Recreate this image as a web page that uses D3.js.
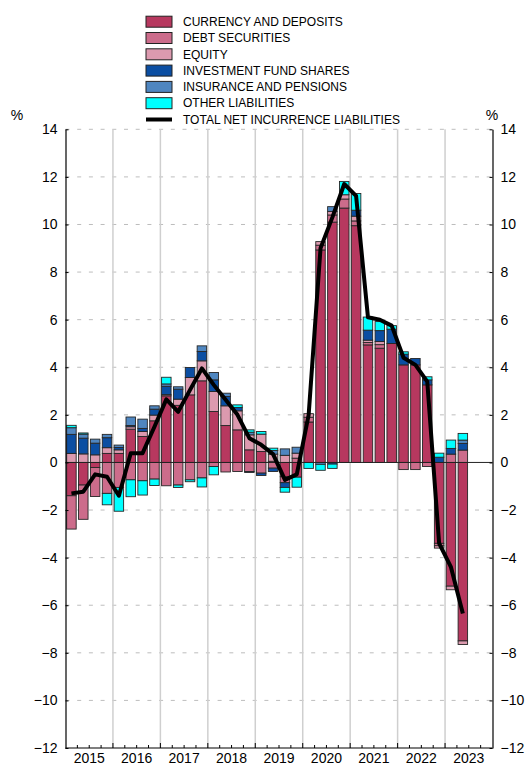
<!DOCTYPE html>
<html>
<head>
<meta charset="utf-8">
<script src="https://cdn.jsdelivr.net/npm/d3@7"></script>
<style>
  body { margin: 0; background: #fff; }
  svg { display: block; font-family: "Liberation Sans", Arial, Helvetica, sans-serif; }
</style>
</head>
<body>
<div id="chart"></div>
<script>
// tick labels / categories
const years = ["2015", "2016", "2017", "2018", "2019", "2020", "2021", "2022", "2023"];
const quarters = ["Q1", "Q2", "Q3", "Q4"];
const yTicks = [-12, -10, -8, -6, -4, -2, 0, 2, 4, 6, 8, 10, 12, 14];

const seriesNames = [
  "CURRENCY AND DEPOSITS",
  "DEBT SECURITIES",
  "EQUITY",
  "INVESTMENT FUND SHARES",
  "INSURANCE AND PENSIONS",
  "OTHER LIABILITIES"
];
const seriesColors = ["#b7385f", "#cc6c8b", "#dc9aaf", "#0b4ea2", "#4f86c0", "#00ffff"];
const lineName = "TOTAL NET INCURRENCE LIABILITIES";

// quarterly values, 2015 Q1 .. 2023 Q2 (% )
const currency = [
  -1.4, -0.95, -0.21, 0.38,
  0.38, 1.4, 1.09, 1.75,
  2.8, 2.4, 2.84, 3.43,
  2.14, 1.55, 1.37, 0.53,
  0.46, 0.05, -0.6, -0.62,
  1.7, 8.93, 10.1, 10.69,
  9.95, 4.94, 4.8, 5.0,
  4.1, 4.1, 3.26, -3.4,
  -5.2, -7.5
];
const debt = [
  -1.4, -1.44, -1.22, -1.3,
  -1.05, -0.73, -0.77, -0.7,
  -0.98, -0.95, -0.73, -0.65,
  -0.17, -0.4, -0.38, -0.38,
  -0.45, -0.24, -0.25, 0.18,
  0.2, 0.2, 0.3, 0.38,
  0.2, 0.1, 0.15, 0,
  -0.3, -0.3, -0.17, -0.1,
  0.35, 0.52
];
const equity = [
  0.38, 0.36, 0.32, 0.24,
  0.15, 0.1, 0.21, 0.24,
  0.05, 0.26, 0.73, 0.84,
  0.84, 0.83, 0.8, 0.63,
  0.73, 0.3, 0.3, 0.21,
  0.15, 0.15, 0.15, 0.18,
  0.2, 0.1, 0.13, 0,
  0, 0, 0, -0.1,
  -0.15, -0.15
];
const fundShares = [
  0.8, 0.66, 0.49, 0.42,
  0.1, 0.05, 0.13, 0.25,
  0.35, 0.42, 0.42, 0.39,
  0.49, 0.39, 0.14, -0.04,
  -0.1, -0.14, -0.2, 0,
  0, 0, -0.07, 0,
  0.25, 0.42, 0.46, 0.6,
  0.45, 0.27, 0.21, 0.22,
  0.24, 0.28
];
const insurance = [
  0.28, 0.17, 0.17, 0.14,
  0.1, 0.36, 0.39, 0.14,
  0.1, 0.1, 0, 0.24,
  0.31, 0.14, 0, 0.11,
  0, 0.15, 0.27, 0.25,
  0, -0.08, 0.2, 0,
  0, 0, 0, 0,
  0, 0, 0, 0,
  0, 0.14
];
const other = [
  0.1, 0.05, 0, -0.48,
  -1.0, -0.71, -0.6, -0.27,
  0.28, -0.1, -0.08, -0.38,
  -0.35, 0, 0.11, 0.1,
  0.11, 0.1, -0.2, -0.42,
  -0.25, -0.25, -0.18, 0.56,
  0.7, 0.55, 0.38, 0.15,
  0.1, 0, 0.13, 0.17,
  0.35, 0.28
];
const total = [
  -1.3, -1.23, -0.5, -0.6,
  -1.4, 0.39, 0.39, 1.5,
  2.65, 2.13, 3.05, 3.95,
  3.26, 2.63, 2.0, 1.02,
  0.74, 0.35, -0.73, -0.5,
  2.0, 9.0, 10.3, 11.7,
  11.2, 6.1, 6.0, 5.75,
  4.4, 4.1, 3.4, -3.4,
  -4.4, -6.35
];

const width = 526;
const height = 765;
const marginLeft = 65.5;
const marginRight = 33.5;
const plotTop = 129.3;
const plotBottom = 748;

const slots = years.flatMap((yr) => quarters.map((q) => yr + q));
const seriesValues = [currency, debt, equity, fundShares, insurance, other];

const table = total.map((t, i) => {
  const row = { key: slots[i], total: t };
  seriesNames.forEach((name, j) => (row[name] = seriesValues[j][i]));
  return row;
});

const x = d3.scaleBand()
  .domain(slots)
  .range([marginLeft, width - marginRight])
  .paddingInner(0.2)
  .paddingOuter(0.1);
const step = x.step();
const xEdge = (i) => marginLeft + i * (width - marginRight - marginLeft) / slots.length;

const y = d3.scaleLinear().domain([-12, 14]).range([plotBottom, plotTop]);

const stack = d3.stack()
  .keys(seriesNames)
  .offset(d3.stackOffsetDiverging);
const stacked = stack(table);

const svg = d3.select("#chart")
  .append("svg")
  .attr("width", width)
  .attr("height", height)
  .attr("viewBox", [0, 0, width, height]);

// horizontal dashed grid
svg.append("g")
  .selectAll("line")
  .data(yTicks.filter((d) => d !== 0 && d !== -12))
  .join("line")
  .attr("x1", marginLeft)
  .attr("x2", width - marginRight)
  .attr("y1", (d) => y(d))
  .attr("y2", (d) => y(d))
  .attr("stroke", "#bdbdbd")
  .attr("stroke-width", 1)
  .attr("stroke-dasharray", "4,7.7");

// year separators
svg.append("g")
  .selectAll("line")
  .data(d3.range(1, years.length))
  .join("line")
  .attr("x1", (i) => xEdge(i * 4))
  .attr("x2", (i) => xEdge(i * 4))
  .attr("y1", plotTop)
  .attr("y2", plotBottom)
  .attr("stroke", "#cfcfcf")
  .attr("stroke-width", 1.5);

// bars
svg.append("g")
  .selectAll("g")
  .data(stacked)
  .join("g")
  .attr("fill", (d, i) => seriesColors[i])
  .selectAll("rect")
  .data((d) => d.filter((s) => s[1] !== s[0]))
  .join("rect")
  .attr("x", (d) => x(d.data.key))
  .attr("width", x.bandwidth())
  .attr("y", (d) => y(Math.max(d[0], d[1])))
  .attr("height", (d) => Math.abs(y(d[0]) - y(d[1])))
  .attr("stroke", "#262626")
  .attr("stroke-width", 0.9);

// zero line
svg.append("line")
  .attr("x1", marginLeft)
  .attr("x2", width - marginRight)
  .attr("y1", y(0))
  .attr("y2", y(0))
  .attr("stroke", "#222")
  .attr("stroke-width", 1);

// total line
const line = d3.line()
  .x((d) => x(d.key) + x.bandwidth() / 2)
  .y((d) => y(d.total));

svg.append("path")
  .datum(table)
  .attr("fill", "none")
  .attr("stroke", "#000")
  .attr("stroke-width", 4)
  .attr("stroke-linejoin", "round")
  .attr("d", line);

// y axes
const axisL = d3.axisLeft(y).tickValues(yTicks).tickSize(-3).tickPadding(8).tickSizeOuter(0);
const axisR = d3.axisRight(y).tickValues(yTicks).tickSize(-3).tickPadding(8).tickSizeOuter(0);

const gL = svg.append("g")
  .attr("transform", `translate(${marginLeft},0)`)
  .call(axisL);
const gR = svg.append("g")
  .attr("transform", `translate(${width - marginRight},0)`)
  .call(axisR);

[gL, gR].forEach((g) => {
  g.select(".domain").attr("stroke", "#000").attr("stroke-width", 1.2);
  g.selectAll(".tick line").attr("stroke", "#000");
  g.selectAll(".tick text")
    .attr("font-size", 14)
    .attr("font-family", "Liberation Sans, Arial, sans-serif")
    .attr("fill", "#000");
});

// bottom axis with quarter ticks
svg.append("line")
  .attr("x1", marginLeft)
  .attr("x2", width - marginRight)
  .attr("y1", plotBottom)
  .attr("y2", plotBottom)
  .attr("stroke", "#000")
  .attr("stroke-width", 1.2);

svg.append("g")
  .selectAll("line")
  .data(d3.range(1, slots.length))
  .join("line")
  .attr("x1", (i) => xEdge(i))
  .attr("x2", (i) => xEdge(i))
  .attr("y1", plotBottom)
  .attr("y2", (i) => plotBottom - (i % 4 === 0 ? 5 : 3))
  .attr("stroke", "#000");

svg.append("g")
  .selectAll("text")
  .data(years)
  .join("text")
  .attr("x", (d, i) => (xEdge(i * 4) + xEdge(i * 4 + 4)) / 2)
  .attr("y", 763)
  .attr("text-anchor", "middle")
  .attr("font-size", 14)
  .text((d) => d);

// % labels
svg.append("text").attr("x", 17).attr("y", 120).attr("text-anchor", "middle").attr("font-size", 14).text("%");
svg.append("text").attr("x", 492).attr("y", 120).attr("text-anchor", "middle").attr("font-size", 14).text("%");

// legend
const legend = svg.append("g").attr("transform", "translate(146,0)");
const rowH = 16.3;
const legendRows = legend.selectAll("g")
  .data(seriesNames)
  .join("g")
  .attr("transform", (d, i) => `translate(0,${21.7 + i * rowH})`);

legendRows.append("rect")
  .attr("x", 0)
  .attr("y", -5.5)
  .attr("width", 26)
  .attr("height", 11)
  .attr("fill", (d, i) => seriesColors[i])
  .attr("stroke", "#222")
  .attr("stroke-width", 1);

legendRows.append("text")
  .attr("x", 37)
  .attr("y", 0)
  .attr("dy", "0.35em")
  .attr("font-size", 12)
  .text((d) => d);

const lineRow = legend.append("g")
  .attr("transform", `translate(0,${21.7 + seriesNames.length * rowH})`);
lineRow.append("line")
  .attr("x1", 0)
  .attr("x2", 26)
  .attr("stroke", "#000")
  .attr("stroke-width", 4);
lineRow.append("text")
  .attr("x", 37)
  .attr("dy", "0.35em")
  .attr("font-size", 12)
  .text(lineName);
</script>
</body>
</html>
